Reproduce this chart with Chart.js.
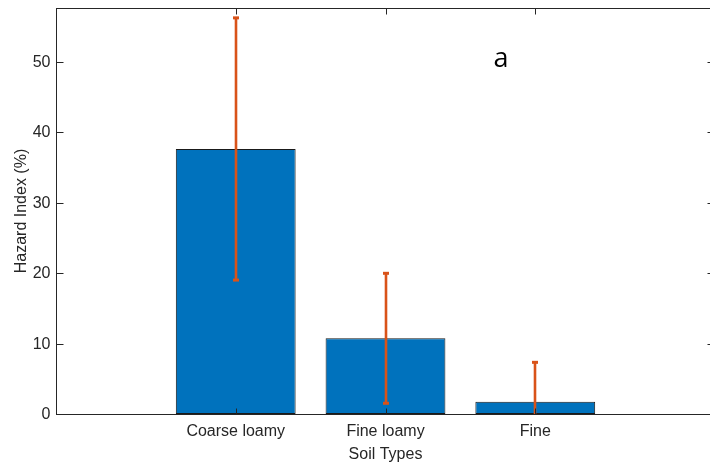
<!DOCTYPE html>
<html>
<head>
<meta charset="utf-8">
<script src="https://cdn.jsdelivr.net/npm/chart.js@4/dist/chart.umd.min.js"></script>
<style>
html,body{margin:0;padding:0;background:#fff;overflow:hidden;width:710px;height:465px;}
#wrap{position:relative;width:715px;height:465px;}
</style>
</head>
<body>
<div id="wrap"><canvas id="c" width="715" height="465"></canvas></div>
<script>
const categories = ['Coarse loamy', 'Fine loamy', 'Fine'];
const positions = [1, 2, 3];
const hazardIndex = [37.6, 10.74, 1.74];
const errorAmount = [18.6, 9.22, 5.59];
const yTicks = [0, 10, 20, 30, 40, 50];
const yTitle = 'Hazard Index (%)';
const xTitle = 'Soil Types';
const panelLabel = 'a';

const AXIS = '#262626';
const FONT = '"Liberation Sans", Arial, Helvetica, sans-serif';

const decor = {
  id: 'decor',
  afterDatasetsDraw(chart) {
    const ctx = chart.ctx;
    const a = chart.chartArea;
    const xs = chart.scales.x, ys = chart.scales.y;
    // error bars
    ctx.save();
    ctx.beginPath();
    ctx.rect(a.left, a.top, a.right - a.left, a.bottom - a.top);
    ctx.clip();
    ctx.strokeStyle = '#D95319';
    positions.forEach((p, i) => {
      const x = Math.round(xs.getPixelForValue(p));
      const yHi = ys.getPixelForValue(hazardIndex[i] + errorAmount[i]);
      const yLo = ys.getPixelForValue(hazardIndex[i] - errorAmount[i]);
      ctx.lineWidth = 2.6;
      ctx.beginPath();
      ctx.moveTo(x, yLo); ctx.lineTo(x, yHi); ctx.stroke();
      ctx.lineWidth = 3;
      ctx.beginPath(); ctx.moveTo(x - 3, yHi); ctx.lineTo(x + 3, yHi); ctx.stroke();
      ctx.beginPath(); ctx.moveTo(x - 3, yLo); ctx.lineTo(x + 3, yLo); ctx.stroke();
    });
    ctx.restore();

    // axes box
    ctx.save();
    ctx.strokeStyle = AXIS;
    ctx.lineWidth = 1;
    const L = Math.round(a.left) + 0.5, R = Math.round(a.right) - 0.5;
    const T = Math.round(a.top) + 0.5, B = Math.round(a.bottom) + 0.5;
    ctx.strokeRect(L, T, R - L, B - T);
    ctx.beginPath();
    yTicks.forEach(v => {
      const y = Math.round(ys.getPixelForValue(v)) + 0.5;
      ctx.moveTo(L, y); ctx.lineTo(L + 7, y);
      ctx.moveTo(R, y); ctx.lineTo(R - 7, y);
    });
    positions.forEach(p => {
      const x = Math.round(xs.getPixelForValue(p)) + 0.5;
      ctx.moveTo(x, B); ctx.lineTo(x, B - 6);
      ctx.moveTo(x, T); ctx.lineTo(x, T + 6);
    });
    ctx.stroke();

    // tick labels
    ctx.fillStyle = AXIS;
    ctx.font = '16px ' + FONT;
    ctx.textAlign = 'right';
    ctx.textBaseline = 'middle';
    yTicks.forEach(v => {
      ctx.fillText(String(v), L - 6, ys.getPixelForValue(v) + 1);
    });
    ctx.textAlign = 'center';
    ctx.textBaseline = 'alphabetic';
    positions.forEach((p, i) => {
      ctx.fillText(categories[i], xs.getPixelForValue(p), 436);
    });
    ctx.fillText(xTitle, xs.getPixelForValue(2), 459);
    ctx.save();
    ctx.translate(26, (a.top + a.bottom) / 2);
    ctx.rotate(-Math.PI / 2);
    ctx.fillText(yTitle, 0, 0);
    ctx.restore();
    ctx.fillStyle = '#000';
    ctx.font = '27px "Open Sans", sans-serif';
    ctx.fillText(panelLabel, 501, 67);
    ctx.restore();
  }
};

new Chart(document.getElementById('c'), {
  type: 'bar',
  data: {
    datasets: [{
      data: positions.map((p, i) => ({ x: p, y: hazardIndex[i] })),
      backgroundColor: '#0072BD',
      borderColor: '#1a1a1a',
      borderWidth: 1,
      borderSkipped: false,
      categoryPercentage: 0.8,
      barPercentage: 1.0
    }]
  },
  options: {
    responsive: false,
    animation: false,
    events: [],
    layout: { padding: { left: 56, top: 8, right: 0, bottom: 51 } },
    plugins: { legend: { display: false }, tooltip: { enabled: false } },
    scales: {
      x: {
        type: 'linear', min: -0.2, max: 4.2, display: false, offset: false,
        afterBuildTicks(scale) { scale.ticks = positions.map(v => ({ value: v })); }
      },
      y: { type: 'linear', min: 0, max: 57.6, display: false }
    }
  },
  plugins: [decor]
});
</script>
</body>
</html>
